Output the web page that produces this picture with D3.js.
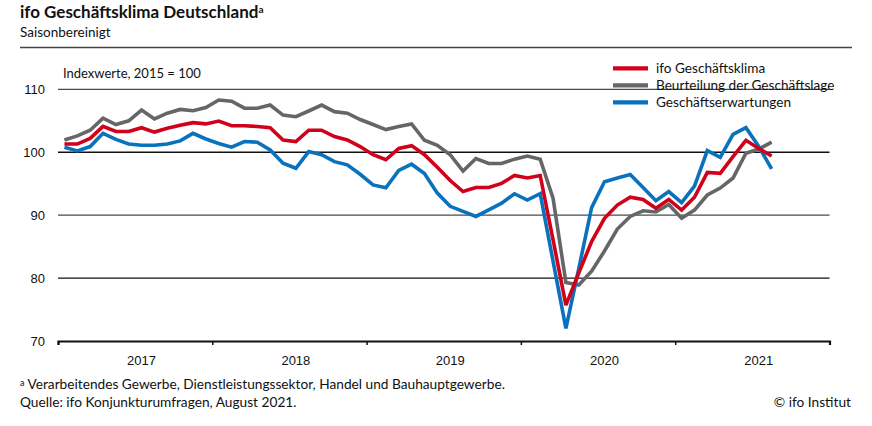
<!DOCTYPE html>
<html>
<head>
<meta charset="utf-8">
<script src="https://cdn.jsdelivr.net/npm/d3@7"></script>
<style>
  html, body { margin: 0; padding: 0; background: #fff; }
  svg { display: block; }
  .src { font-family: Lato, "Open Sans", sans-serif; }
  .ax { font-family: "Liberation Sans", Arial, sans-serif; }
</style>
</head>
<body>
<svg id="chart" width="872" height="426"></svg>
<script>
// Monthly values, Jan 2017 .. Aug 2021 (index 2015 = 100)
const years = ["2017", "2018", "2019", "2020", "2021"];
const seriesNames = ["ifo Geschäftsklima", "Beurteilung der Geschäftslage", "Geschäftserwartungen"];
const klima = [
  101.3, 101.3, 102.2, 104.1, 103.3, 103.3, 103.9, 103.2, 103.8, 104.3, 104.7, 104.5,
  104.95, 104.2, 104.2, 104.1, 103.9, 101.95, 101.7, 103.5, 103.5, 102.5, 101.95, 100.9,
  99.6, 98.8, 100.6, 101.05, 99.6, 97.6, 95.5, 93.75, 94.4, 94.4, 95.05, 96.3,
  95.9, 96.3, 86.1, 75.7, 80.8, 85.8, 89.5, 91.6, 92.85, 92.5, 91.1, 92.5,
  90.8, 92.85, 96.8, 96.65, 99.3, 101.9, 100.6, 99.4
];
const lage = [
  101.95, 102.6, 103.5, 105.4, 104.4, 105.0, 106.7, 105.3, 106.2, 106.8, 106.6, 107.1,
  108.3, 108.1, 107.0, 107.0, 107.5, 105.9, 105.65, 106.55, 107.5, 106.45, 106.2, 105.2,
  104.4, 103.6, 104.1, 104.5, 101.9, 101.1, 99.6, 97.0, 99.0, 98.2, 98.2, 98.9,
  99.4, 98.9, 92.7, 79.3, 78.9, 81.1, 84.3, 87.8, 89.8, 90.7, 90.5, 91.7,
  89.5, 90.8, 93.2, 94.3, 95.9, 99.85, 100.5, 101.6
];
const erwartungen = [
  100.8, 100.2, 100.9, 103.0, 102.05, 101.3, 101.1, 101.1, 101.3, 101.8, 103.0, 102.1,
  101.4, 100.8, 101.7, 101.6, 100.35, 98.25, 97.45, 100.1, 99.6, 98.5, 98.0, 96.5,
  94.8, 94.35, 97.1, 98.1, 96.6, 93.5, 91.4, 90.6, 89.8, 90.85, 91.9, 93.4,
  92.4, 93.4, 82.7, 72.0, 81.5, 91.2, 95.3, 95.9, 96.45, 94.4, 92.3, 93.75,
  92.0, 94.6, 100.25, 99.2, 102.85, 103.9, 100.9, 97.35
];
const yTicks = [70, 80, 90, 100, 110];
const colors = ["#d0021b", "#666666", "#0a72bd"];

const svg = d3.select("#chart");

const x = d3.scaleLinear().domain([0, 60]).range([58, 829.5]);
const y = d3.scaleLinear().domain([70, 110]).range([341, 89.3]);

// Title block
const title = svg.append("text").attr("class", "src")
  .attr("x", 20).attr("y", 18)
  .attr("font-size", 17).attr("font-weight", 700).attr("fill", "#111");
title.append("tspan").text("ifo Geschäftsklima Deutschland");
title.append("tspan").attr("font-size", 10).attr("dy", -5).text("a");

svg.append("text").attr("class", "src")
  .attr("x", 20).attr("y", 37).attr("font-size", 13.5).attr("fill", "#111")
  .text("Saisonbereinigt");

svg.append("line").attr("x1", 20).attr("x2", 852).attr("y1", 47.5).attr("y2", 47.5)
  .attr("stroke", "#444").attr("stroke-width", 1.5);

svg.append("text").attr("class", "src")
  .attr("x", 63).attr("y", 78).attr("font-size", 13).attr("fill", "#111")
  .text("Indexwerte, 2015 = 100");

// Gridlines
svg.append("g").selectAll("line").data(yTicks.filter(d => d > 70)).join("line")
  .attr("x1", x(0)).attr("x2", x(60))
  .attr("y1", d => y(d)).attr("y2", d => y(d))
  .attr("stroke", d => (d === 110 || d === 90) ? "#4a4a4a" : "#111")
  .attr("stroke-width", 1.3);

// Y tick labels
svg.append("g").selectAll("text").data(yTicks).join("text").attr("class", "ax")
  .attr("x", 45).attr("y", d => y(d)).attr("dy", "0.35em")
  .attr("text-anchor", "end").attr("font-size", 13).attr("fill", "#111")
  .text(d => d);

// X axis
const xAxis = d3.axisBottom(x)
  .tickValues(d3.range(0, 61, 12))
  .tickSize(4).tickFormat("");
const gx = svg.append("g").attr("transform", `translate(0,${y(70)})`).call(xAxis);
gx.select(".domain").attr("stroke", "#111").attr("stroke-width", 2.2);
gx.selectAll(".tick line").attr("stroke", "#111").attr("stroke-width", 1.5);

svg.append("g").selectAll("text").data(years).join("text").attr("class", "ax")
  .attr("x", (d, i) => x(i * 12 + 6.5)).attr("y", 365)
  .attr("text-anchor", "middle").attr("font-size", 13).attr("fill", "#111")
  .text(d => d);

// Lines
const line = d3.line().x((d, i) => x(i + 0.5)).y(d => y(d));
const data = [lage, erwartungen, klima];
const dataColors = [colors[1], colors[2], colors[0]];
svg.append("g").selectAll("path").data(data).join("path")
  .attr("d", line)
  .attr("fill", "none")
  .attr("stroke", (d, i) => dataColors[i])
  .attr("stroke-width", 3.6)
  .attr("stroke-linejoin", "miter")
  .attr("stroke-miterlimit", 2);

// Legend
const leg = svg.append("g");
seriesNames.forEach((name, i) => {
  const ly = 68.3 + i * 17;
  leg.append("line").attr("x1", 613).attr("x2", 648).attr("y1", ly).attr("y2", ly)
    .attr("stroke", colors[i]).attr("stroke-width", 4.2);
  leg.append("text").attr("class", "src")
    .attr("x", 656).attr("y", ly).attr("dy", "0.36em")
    .attr("font-size", 13.6).attr("fill", "#111").text(name);
});

// Footnotes
const f1 = svg.append("text").attr("class", "src")
  .attr("x", 20).attr("y", 389).attr("font-size", 13.7).attr("fill", "#111");
f1.append("tspan").attr("font-size", 9).attr("dy", -3).text("a");
f1.append("tspan").attr("dy", 3).text(" Verarbeitendes Gewerbe, Dienstleistungssektor, Handel und Bauhauptgewerbe.");

svg.append("text").attr("class", "src")
  .attr("x", 20).attr("y", 407).attr("font-size", 13.7).attr("fill", "#111")
  .text("Quelle: ifo Konjunkturumfragen, August 2021.");

svg.append("text").attr("class", "src")
  .attr("x", 851).attr("y", 407).attr("text-anchor", "end").attr("font-size", 13.7).attr("fill", "#111")
  .text("© ifo Institut");
</script>
</body>
</html>
